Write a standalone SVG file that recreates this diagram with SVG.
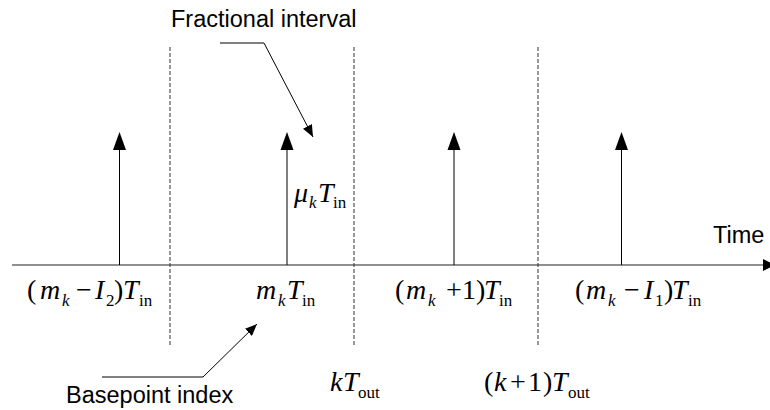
<svg xmlns="http://www.w3.org/2000/svg" width="770" height="410" viewBox="0 0 770 410">
<style>
.lbl{font-family:"Liberation Sans",Arial,sans-serif;font-size:23.5px;fill:#000}
.mi{font-family:"Liberation Serif","Times New Roman",serif;font-style:italic;font-size:28px;fill:#000}
.mr{font-family:"Liberation Serif","Times New Roman",serif;font-size:28px;fill:#000}
.si{font-family:"Liberation Serif","Times New Roman",serif;font-style:italic;font-size:17px;fill:#000}
.sr{font-family:"Liberation Serif","Times New Roman",serif;font-size:17px;fill:#000}
.dash{stroke:#333;stroke-width:1;stroke-dasharray:4,2;fill:none}
.imp{stroke:#000;stroke-width:1;fill:none}
.lead{stroke:#000;stroke-width:1;fill:none;marker-end:url(#ah)}
.head{fill:#000}
</style>
<defs>
<marker id="ah" viewBox="0 0 12 10" refX="12" refY="5" markerWidth="12" markerHeight="10" markerUnits="userSpaceOnUse" orient="auto">
<path d="M0,0 L12,5 L0,10 Z" fill="#000"/>
</marker>
</defs>
<rect width="770" height="410" fill="#fff"/>

<g id="axis">
<line x1="12" y1="265" x2="764" y2="265" stroke="#222" stroke-width="1.2"/>
<path class="head" d="M763,259 L775,265 L763,271 Z"/>
<text class="lbl" x="713" y="243">Time</text>
</g>

<g id="boundaries">
<line class="dash" x1="170" y1="47" x2="170" y2="347"/>
<line class="dash" x1="354" y1="47" x2="354" y2="347"/>
<line class="dash" x1="538" y1="47" x2="538" y2="347"/>
</g>

<g id="sample-m-I2">
<line class="imp" x1="119.5" y1="265" x2="119.5" y2="149"/>
<path class="head" d="M119.5,132 L126,150 L113,150 Z"/>
<text y="299"><tspan class="mr" x="27">(</tspan><tspan class="mi" x="40">m</tspan><tspan class="si" x="62" y="306">k</tspan><tspan class="mr" x="76" y="299">−</tspan><tspan class="mi" x="95">I</tspan><tspan class="sr" x="106" y="306">2</tspan><tspan class="mr" x="114" y="299">)</tspan><tspan class="mi" x="123">T</tspan><tspan class="sr" x="139" y="306">in</tspan></text>
</g>

<g id="sample-m">
<line class="imp" x1="287" y1="265" x2="287" y2="149"/>
<path class="head" d="M287,132 L293.5,150 L280.5,150 Z"/>
<text y="299"><tspan class="mi" x="256">m</tspan><tspan class="si" x="278" y="306">k</tspan><tspan class="mi" x="287" y="299">T</tspan><tspan class="sr" x="302" y="306">in</tspan></text>
<text y="202"><tspan class="mi" x="294">μ</tspan><tspan class="si" x="309" y="208">k</tspan><tspan class="mi" x="318" y="202">T</tspan><tspan class="sr" x="333" y="208">in</tspan></text>
</g>

<g id="sample-m-plus-1">
<line class="imp" x1="454" y1="265" x2="454" y2="149"/>
<path class="head" d="M454,132 L460.5,150 L447.5,150 Z"/>
<text y="299"><tspan class="mr" x="395">(</tspan><tspan class="mi" x="406">m</tspan><tspan class="si" x="428" y="306">k</tspan><tspan class="mr" x="446" y="299">+</tspan><tspan class="mr" x="462">1</tspan><tspan class="mr" x="476">)</tspan><tspan class="mi" x="484">T</tspan><tspan class="sr" x="499" y="306">in</tspan></text>
</g>

<g id="sample-m-I1">
<line class="imp" x1="621.5" y1="265" x2="621.5" y2="149"/>
<path class="head" d="M621.5,132 L628,150 L615,150 Z"/>
<text y="299"><tspan class="mr" x="575">(</tspan><tspan class="mi" x="586">m</tspan><tspan class="si" x="608" y="306">k</tspan><tspan class="mr" x="624" y="299">−</tspan><tspan class="mi" x="644">I</tspan><tspan class="sr" x="655" y="306">1</tspan><tspan class="mr" x="664" y="299">)</tspan><tspan class="mi" x="672">T</tspan><tspan class="sr" x="688" y="306">in</tspan></text>
</g>

<g id="output-times">
<text y="391"><tspan class="mi" x="330">k</tspan><tspan class="mi" x="343">T</tspan><tspan class="sr" x="358" y="398">out</tspan></text>
<text y="391"><tspan class="mr" x="484">(</tspan><tspan class="mi" x="494">k</tspan><tspan class="mr" x="510">+</tspan><tspan class="mr" x="528">1</tspan><tspan class="mr" x="543">)</tspan><tspan class="mi" x="552">T</tspan><tspan class="sr" x="568" y="398">out</tspan></text>
</g>

<g id="annotations">
<text class="lbl" x="171" y="27">Fractional interval</text>
<text class="lbl" x="66" y="403">Basepoint index</text>
</g>

<g id="connectors">
<polyline class="lead" points="220,43 264,43 313,137"/>
<polyline class="lead" points="102,377 203,377 257,324"/>
</g>
</svg>
